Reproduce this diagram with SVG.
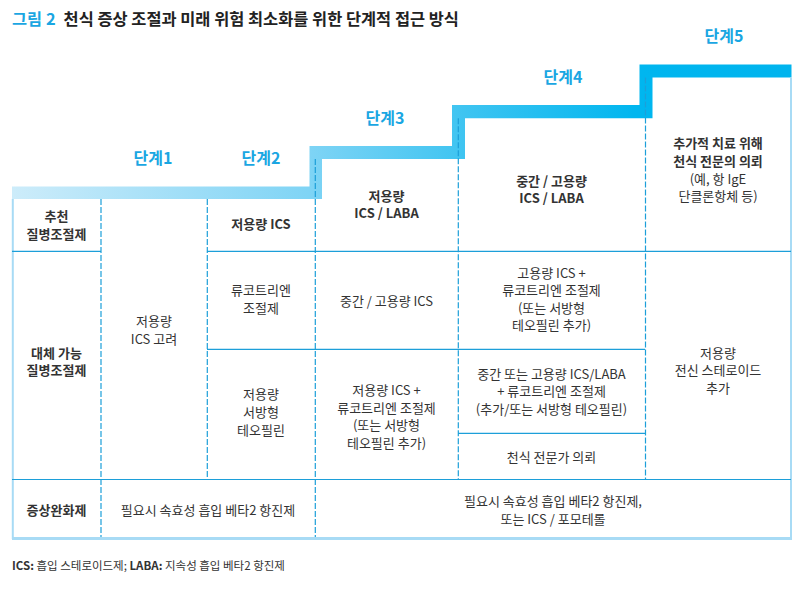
<svg xmlns="http://www.w3.org/2000/svg" width="797" height="593" viewBox="0 0 797 593">
<defs>
<linearGradient id="stairGrad" x1="12" y1="0" x2="792" y2="0" gradientUnits="userSpaceOnUse">
<stop offset="0" stop-color="#cdecfa"/>
<stop offset="0.38" stop-color="#7fd4f5"/>
<stop offset="0.58" stop-color="#3ec4f1"/>
<stop offset="0.8" stop-color="#00b6ef"/>
<stop offset="1" stop-color="#00b4ee"/>
</linearGradient>
<style>
text{font-family:"Noto Sans CJK KR","Noto Sans",sans-serif;fill:#333333;font-size:13px}
.c{text-anchor:middle}
.b{font-weight:700}
.step{font-size:16px;fill:#1aa6e2;font-weight:700;text-anchor:middle}
.solid{stroke:#1c9fd9;stroke-width:1.2;fill:none}
.dash{stroke:#1c9fd9;stroke-width:1.2;fill:none;stroke-dasharray:6 2}
.edge{stroke:#a8dbf5;fill:none}
</style>
</defs>
<rect width="797" height="593" fill="#ffffff"/>

<g id="title">
<text x="12" y="25" style="font-size:16.4px"><tspan style="fill:#1aa6e2" font-weight="700">그림 2</tspan><tspan dx="8" font-weight="700" style="fill:#222222">천식 증상 조절과 미래 위험 최소화를 위한 단계적 접근 방식</tspan></text>
</g>

<g id="staircase">
<polygon fill="url(#stairGrad)" points="12,186.5 309.5,186.5 309.5,146 452,146 452,105 639.5,105 639.5,64.5 791.5,64.5 791.5,77.5 652.5,77.5 652.5,118.3 465,118.3 465,159 322,159 322,199 12,199"/>
<text class="step" x="153" y="164">단계1</text>
<text class="step" x="261" y="164">단계2</text>
<text class="step" x="385" y="123.7">단계3</text>
<text class="step" x="563" y="82.7">단계4</text>
<text class="step" x="724" y="42.4">단계5</text>
</g>

<g id="connectors">
<line class="edge" x1="12.8" y1="199" x2="12.8" y2="539" stroke-width="2"/>
<line class="edge" x1="791" y1="77.5" x2="791" y2="539" stroke-width="2"/>
<line class="edge" x1="12" y1="538.5" x2="792" y2="538.5" stroke-width="3"/>
<line class="solid" x1="12" y1="251.3" x2="101" y2="251.3"/>
<line class="solid" x1="207" y1="251.3" x2="791" y2="251.3"/>
<line class="solid" x1="207" y1="349.3" x2="645" y2="349.3"/>
<line class="solid" x1="458" y1="433.3" x2="645" y2="433.3"/>
<line class="solid" x1="12" y1="479.5" x2="791" y2="479.5"/>
<line class="dash" x1="101" y1="199" x2="101" y2="537"/>
<line class="dash" x1="207.3" y1="199" x2="207.3" y2="479.5"/>
<line class="dash" x1="315.3" y1="159" x2="315.3" y2="537"/>
<line class="dash" x1="458.3" y1="118.3" x2="458.3" y2="479.5"/>
<line class="dash" x1="645.5" y1="77.5" x2="645.5" y2="479.5"/>
</g>

<g id="row-labels">
<text class="c b" x="56.5" y="221.2">추천</text>
<text class="c b" x="56.5" y="238.8">질병조절제</text>
<text class="c b" x="56.5" y="357.6">대체 가능</text>
<text class="c b" x="56.5" y="375.4">질병조절제</text>
<text class="c b" x="56.5" y="514.6">증상완화제</text>
</g>

<g id="step1">
<text class="c" x="154" y="325.6">저용량</text>
<text class="c" x="154" y="343.6">ICS 고려</text>
</g>

<g id="step2">
<text class="c b" x="261" y="228.6">저용량 ICS</text>
<text class="c" x="261" y="294.6">류코트리엔</text>
<text class="c" x="261" y="313">조절제</text>
<text class="c" x="261" y="398.6">저용량</text>
<text class="c" x="261" y="416.9">서방형</text>
<text class="c" x="261" y="435.3">테오필린</text>
</g>

<g id="step3">
<text class="c b" x="386.5" y="200.6">저용량</text>
<text class="c b" x="386.5" y="218">ICS / LABA</text>
<text class="c" x="386.5" y="306.3">중간 / 고용량 ICS</text>
<text class="c" x="386.5" y="395">저용량 ICS +</text>
<text class="c" x="386.5" y="412.5">류코트리엔 조절제</text>
<text class="c" x="386.5" y="430">(또는 서방형</text>
<text class="c" x="386.5" y="447.6">테오필린 추가)</text>
</g>

<g id="step4">
<text class="c b" x="551.5" y="185.6">중간 / 고용량</text>
<text class="c b" x="551.5" y="203">ICS / LABA</text>
<text class="c" x="551.5" y="277.9">고용량 ICS +</text>
<text class="c" x="551.5" y="295.3">류코트리엔 조절제</text>
<text class="c" x="551.5" y="312.9">(또는 서방형</text>
<text class="c" x="551.5" y="330.3">테오필린 추가)</text>
<text class="c" x="551.5" y="378.6">중간 또는 고용량 ICS/LABA</text>
<text class="c" x="551.5" y="396.2">+ 류코트리엔 조절제</text>
<text class="c" x="551.5" y="413.8">(추가/또는 서방형 테오필린)</text>
<text class="c" x="551.5" y="462.3">천식 전문가 의뢰</text>
</g>

<g id="step5">
<text class="c b" x="718" y="148.4">추가적 치료 위해</text>
<text class="c b" x="718" y="166">천식 전문의 의뢰</text>
<text class="c" x="718" y="183.5">(예, 항 IgE</text>
<text class="c" x="718" y="201">단클론항체 등)</text>
<text class="c" x="718" y="357.9">저용량</text>
<text class="c" x="718" y="375.3">전신 스테로이드</text>
<text class="c" x="718" y="392.6">추가</text>
</g>

<g id="reliever">
<text class="c" x="208" y="514.6">필요시 속효성 흡입 베타2 항진제</text>
<text class="c" x="553" y="505.6">필요시 속효성 흡입 베타2 항진제,</text>
<text class="c" x="553" y="523.6">또는 ICS / 포모테롤</text>
</g>

<g id="footnote">
<text x="12" y="570" style="font-size:11.5px"><tspan font-weight="700">ICS:</tspan> 흡입 스테로이드제; <tspan font-weight="700">LABA:</tspan> 지속성 흡입 베타2 항진제</text>
</g>
</svg>
